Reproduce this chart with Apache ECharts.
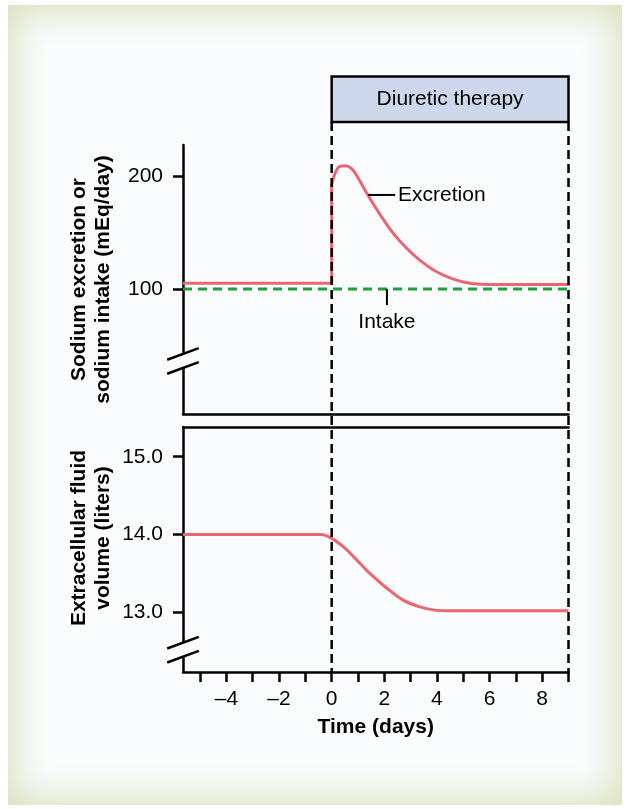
<!DOCTYPE html>
<html>
<head>
<meta charset="utf-8">
<script src="https://cdn.jsdelivr.net/npm/echarts@6/dist/echarts.min.js"></script>
<style>
  html, body { margin: 0; padding: 0; background: #ffffff; }
  #frame { position: absolute; left: 8px; top: 5px; width: 614px; height: 800px;
           background: #fbfcfd; box-shadow: inset 0 0 34px 8px #d9e2c0; }
  #chart { position: absolute; left: 0; top: 0; width: 629px; height: 809px; }
</style>
</head>
<body>
<div id="frame"></div>
<div id="chart"></div>
<script>
// ---- data ----
const timeMin = -5.65, timeMax = 9;
const timeTickValues = [-5, -4, -3, -2, -1, 0, 1, 2, 3, 4, 5, 6, 7, 8, 9];
const timeLabelValues = [-4, -2, 0, 2, 4, 6, 8];
const sodiumTickValues = [100, 200];
const volumeTickValues = [13, 14, 15];

const excretionBaseDays = [-5.65, 0, 0];
const excretionBaseValues = [105, 105, 192];
const excretionDays = [0, 0.25, 0.5, 0.75, 1.0, 1.35, 1.85, 2.35, 2.85, 3.35, 4.0, 4.6, 5.25, 5.9, 9];
const excretionValues = [192, 207.5, 209, 206.8, 198.5, 184, 165.5, 149, 136, 125.5, 115, 109, 105, 104, 104];

const intakeDays = [-5.65, 9];
const intakeValues = [100, 100];

const volumeDays = [-5.65, -0.4, 0, 0.45, 0.85, 1.45, 2.1, 2.7, 3.35, 4.0, 4.4, 9];
const volumeValues = [14, 14, 13.95, 13.84, 13.71, 13.5, 13.31, 13.16, 13.07, 13.025, 13.02, 13.02];

const therapyStart = 0, therapyEnd = 9;
// ---------------------------------------

const zip = (xs, ys) => xs.map((x, i) => [x, ys[i]]);
const RED = '#eb6670', GREEN = '#1c9e3f', FONT = '"Liberation Sans", Arial, sans-serif';
const FS = 21;
const fmtTime = v => v < 0 ? '\u2013' + Math.abs(v) : String(v);

const chart = echarts.init(document.getElementById('chart'), null, { renderer: 'canvas' });

const axisLine = { show: true, onZero: false, lineStyle: { color: '#000', width: 2.5 } };
const tickStyle = { color: '#000', width: 2.5 };
const labelStyle = { color: '#000', fontSize: FS, fontFamily: FONT };

chart.setOption({
  backgroundColor: 'transparent',
  animation: false,
  grid: [
    { left: 183, right: 60.5, top: 145, height: 269 },
    { left: 183, right: 60.5, top: 427, height: 245 }
  ],
  xAxis: [
    { type: 'value', gridIndex: 0, min: timeMin, max: timeMax, axisLine: axisLine,
      axisTick: { show: false }, axisLabel: { show: false }, splitLine: { show: false } },
    { type: 'value', gridIndex: 1, min: timeMin, max: timeMax, axisLine: axisLine,
      axisTick: { show: true, customValues: timeTickValues, length: 10, lineStyle: tickStyle },
      axisLabel: Object.assign({ customValues: timeLabelValues, formatter: fmtTime, margin: 17 }, labelStyle),
      splitLine: { show: false },
      name: 'Time (days)', nameLocation: 'middle', nameGap: 45,
      nameTextStyle: { color: '#000', fontSize: FS, fontWeight: 'bold', fontFamily: FONT } },
    { type: 'value', gridIndex: 1, position: 'top', min: timeMin, max: timeMax, axisLine: axisLine,
      axisTick: { show: false }, axisLabel: { show: false }, splitLine: { show: false } }
  ],
  yAxis: [
    { type: 'value', gridIndex: 0, min: -10.6, max: 227.4, axisLine: axisLine,
      axisTick: { show: true, customValues: sodiumTickValues, length: 10, lineStyle: tickStyle },
      axisLabel: Object.assign({ customValues: sodiumTickValues, margin: 20 }, labelStyle),
      splitLine: { show: false } },
    { type: 'value', gridIndex: 1, min: 12.233, max: 15.382, axisLine: axisLine,
      axisTick: { show: true, customValues: volumeTickValues, length: 10, lineStyle: tickStyle },
      axisLabel: Object.assign({ customValues: volumeTickValues, margin: 20, formatter: v => v.toFixed(1) }, labelStyle),
      splitLine: { show: false } }
  ],
  series: [
    { type: 'line', xAxisIndex: 0, yAxisIndex: 0, data: zip(intakeDays, intakeValues), symbol: 'none',
      lineStyle: { color: GREEN, width: 3, type: [9, 6] }, z: 3 },
    { type: 'line', xAxisIndex: 0, yAxisIndex: 0, data: zip(excretionBaseDays, excretionBaseValues), symbol: 'none',
      lineStyle: { color: RED, width: 3, join: 'round' }, z: 2 },
    { type: 'line', xAxisIndex: 0, yAxisIndex: 0, data: zip(excretionDays, excretionValues), symbol: 'none',
      smooth: 0.4, lineStyle: { color: RED, width: 3, join: 'round', cap: 'round' }, z: 2 },
    { type: 'line', xAxisIndex: 1, yAxisIndex: 1, data: zip(volumeDays, volumeValues), symbol: 'none',
      smooth: 0.35, lineStyle: { color: RED, width: 3 }, z: 2 }
  ]
});

// ---- annotations positioned through the axes ----
const p0 = v => chart.convertToPixel({ gridIndex: 0 }, v);
const p1 = v => chart.convertToPixel({ gridIndex: 1 }, v);

const xs = p0([therapyStart, 100])[0];
const xe = p0([therapyEnd, 100])[0];
const gridTop0 = p0([0, 227.4])[1];
const boxBottom = gridTop0 - 23, boxTop = boxBottom - 45.5;
const bottomY = p1([0, 12.233])[1];

const g = [];
// therapy box
g.push({ type: 'rect', shape: { x: xs, y: boxTop, width: xe - xs, height: boxBottom - boxTop },
         style: { fill: '#cdd8ec', stroke: '#000', lineWidth: 2.5 }, z: 10 });
g.push({ type: 'text', x: (xs + xe) / 2, y: (boxTop + boxBottom) / 2,
         style: { text: 'Diuretic therapy', font: FS + 'px ' + FONT, fill: '#000', textAlign: 'center', textVerticalAlign: 'middle' }, z: 11 });
// dashed verticals
[xs, xe].forEach(x => g.push({ type: 'line', shape: { x1: x, y1: boxBottom, x2: x, y2: bottomY },
  style: { stroke: '#000', lineWidth: 2.5, lineDash: [9, 5] }, z: 9 }));

// axis breaks
function brk(pt) {
  const [cx, cy] = pt, dx = 15.8, dy = 5.8, gap = 7;
  g.push({ type: 'polygon', shape: { points: [[cx - dx, cy - gap + dy], [cx + dx, cy - gap - dy], [cx + dx, cy + gap - dy], [cx - dx, cy + gap + dy]] },
           style: { fill: '#fbfcfd' }, z: 12 });
  [-gap, gap].forEach(o => g.push({ type: 'line', shape: { x1: cx - dx, y1: cy + o + dy, x2: cx + dx, y2: cy + o - dy },
           style: { stroke: '#000', lineWidth: 2.5 }, z: 13 }));
}
brk(p0([timeMin, 36.3]));
brk(p1([timeMin, 12.52]));

// leader: Excretion
const e1 = p0([1.39, 183.2]), e2 = p0([2.41, 183.2]);
g.push({ type: 'line', shape: { x1: e1[0], y1: e1[1], x2: e2[0], y2: e2[1] }, style: { stroke: '#000', lineWidth: 2 }, z: 10 });
g.push({ type: 'text', x: e2[0] + 3, y: e2[1], style: { text: 'Excretion', font: FS + 'px ' + FONT, fill: '#000', textAlign: 'left', textVerticalAlign: 'middle' }, z: 10 });
// leader: Intake
const i1 = p0([2.1, 100]), i2 = p0([2.1, 85.8]), i3 = p0([2.1, 71]);
g.push({ type: 'line', shape: { x1: i1[0], y1: i1[1], x2: i2[0], y2: i2[1] }, style: { stroke: '#000', lineWidth: 2 }, z: 10 });
g.push({ type: 'text', x: i3[0], y: i3[1], style: { text: 'Intake', font: FS + 'px ' + FONT, fill: '#000', textAlign: 'center', textVerticalAlign: 'middle' }, z: 10 });

// y-axis titles
const c0 = (p0([timeMin, -10.6])[1] + gridTop0) / 2;
g.push({ type: 'text', x: 91, y: c0, rotation: Math.PI / 2,
         style: { text: 'Sodium excretion or\nsodium intake (mEq/day)', font: 'bold ' + FS + 'px ' + FONT, fill: '#000',
                  textAlign: 'center', textVerticalAlign: 'middle', lineHeight: 24 }, z: 10 });
g.push({ type: 'text', x: 91, y: 538, rotation: Math.PI / 2,
         style: { text: 'Extracellular fluid\nvolume (liters)', font: 'bold ' + FS + 'px ' + FONT, fill: '#000',
                  textAlign: 'center', textVerticalAlign: 'middle', lineHeight: 24 }, z: 10 });

chart.setOption({ graphic: g });
</script>
</body>
</html>
